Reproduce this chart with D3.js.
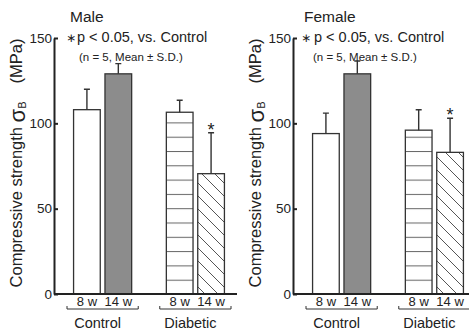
<!DOCTYPE html>
<html>
<head>
<meta charset="UTF-8">
<script src="https://cdn.jsdelivr.net/npm/d3@7"></script>
<style>
  body { margin: 0; background: #fff; }
  text { font-family: "Liberation Sans", Arial, sans-serif; fill: #222; }
</style>
</head>
<body>
<div class="chart"></div>
<script>
  // data
  const groups = ["Control", "Diabetic"];
  const weeks = ["8 w", "14 w"];
  const yTicks = [0, 50, 100, 150];
  const maleMean = [108, 129, 106.5, 70.5];
  const maleSD = [12, 6, 7, 24];
  const femaleMean = [94, 129, 96, 83];
  const femaleSD = [12, 7.5, 12, 20];
  const significant = [false, false, false, true];
  const sexes = ["Male", "Female"];

  const W = 469, H = 330;
  const svg = d3.select('.chart').append('svg').attr('width', W).attr('height', H);

  const defs = svg.append('defs');
  const hp = defs.append('pattern').attr('id', 'hlines').attr('patternUnits', 'userSpaceOnUse')
    .attr('x', 0).attr('y', 294 - 14.3 * 20).attr('width', 10).attr('height', 14.3);
  hp.append('rect').attr('width', 10).attr('height', 14.3).attr('fill', '#fff');
  hp.append('line').attr('x1', 0).attr('x2', 10).attr('y1', 0.5).attr('y2', 0.5).attr('stroke', '#666').attr('stroke-width', 1);
  const dp = defs.append('pattern').attr('id', 'diag').attr('patternUnits', 'userSpaceOnUse')
    .attr('width', 13).attr('height', 13);
  dp.append('rect').attr('width', 13).attr('height', 13).attr('fill', '#fff');
  dp.append('path').attr('d', 'M-2,-2L15,15M-2,11L2,15M11,-2L15,2').attr('stroke', '#555').attr('stroke-width', 1);

  const fills = ['#fff', '#8c8c8c', 'url(#hlines)', 'url(#diag)'];

  const y = d3.scaleLinear().domain([0, 150]).range([294, 38]);
  const x0 = d3.scaleBand().domain(groups).range([18, 172]).paddingInner(0.34);
  const x1 = d3.scaleBand().domain(weeks).range([0, x0.bandwidth()]).paddingInner(0.15).paddingOuter(0.05);

  const panels = [
    {title: sexes[0], mean: maleMean, sd: maleSD, ox: 54, titleDx: 16, starDx: 12, pDx: 23, nDx: 25},
    {title: sexes[1], mean: femaleMean, sd: femaleSD, ox: 293, titleDx: 11, starDx: 8, pDx: 21, nDx: 20}
  ];

  panels.forEach(p => {
    const g = svg.append('g').attr('transform', `translate(${p.ox},0)`);
    const bars = [];
    groups.forEach((gr, gi) => weeks.forEach((wk, wi) => {
      const i = gi * 2 + wi;
      bars.push({gr, wk, i, mean: p.mean[i], sd: p.sd[i], sig: significant[i]});
    }));
    const bx = d => x0(d.gr) + x1(d.wk);

    g.selectAll('rect.bar').data(bars).join('rect').attr('class', 'bar')
      .attr('x', bx).attr('width', x1.bandwidth())
      .attr('y', d => y(d.mean)).attr('height', d => y(0) - y(d.mean))
      .attr('fill', d => fills[d.i]).attr('stroke', '#333').attr('stroke-width', 1.3);

    // error bars (upper only)
    g.selectAll('path.err').data(bars).join('path').attr('class', 'err')
      .attr('d', d => {
        const cx = bx(d) + x1.bandwidth() / 2;
        return `M${cx},${y(d.mean)}V${y(d.mean + d.sd)}M${cx - 3},${y(d.mean + d.sd)}H${cx + 3}`;
      })
      .attr('stroke', '#333').attr('stroke-width', 1.4).attr('fill', 'none');

    g.selectAll('text.sig').data(bars.filter(d => d.sig)).join('text').attr('class', 'sig')
      .attr('x', d => bx(d) + x1.bandwidth() / 2).attr('y', d => y(d.mean + d.sd) + 3)
      .attr('text-anchor', 'middle').style('font-size', '18px').text('*');

    // y axis
    const yAxis = d3.axisLeft(y).tickValues(yTicks).tickSize(-4).tickSizeOuter(0).tickPadding(2);
    const ya = g.append('g').call(yAxis);
    ya.select('.domain').attr('stroke', '#222').attr('stroke-width', 2);
    ya.selectAll('.tick line').attr('stroke', '#222').attr('stroke-width', 2);
    ya.selectAll('.tick text').style('font-size', '13.5px').style('font-family', '"Liberation Sans", Arial, sans-serif').attr('fill', '#222');

    // baseline
    g.append('line').attr('x1', 0).attr('x2', 183).attr('y1', y(0)).attr('y2', y(0))
      .attr('stroke', '#222').attr('stroke-width', 2);

    // week labels
    g.selectAll('text.wk').data(bars).join('text').attr('class', 'wk')
      .attr('x', d => bx(d) + x1.bandwidth() / 2).attr('y', 306)
      .attr('text-anchor', 'middle').style('font-size', '13px').text(d => d.wk);

    // group brackets and labels
    groups.forEach(gr => {
      const a = x0(gr) - 5, b = x0(gr) + x0.bandwidth() + 5;
      g.append('path').attr('d', `M${a},306V309H${b}V306`).attr('stroke', '#333').attr('stroke-width', 1).attr('fill', 'none');
      g.append('text').attr('x', x0(gr) + x0.bandwidth() / 2 - 5).attr('y', 328)
        .attr('text-anchor', 'middle').style('font-size', '14.5px').text(gr);
    });

    // y label
    const yl = g.append('text').attr('transform', 'translate(-32,163) rotate(-90)')
      .attr('text-anchor', 'middle').style('font-size', '16.5px');
    yl.append('tspan').text('Compressive strength ');
    yl.append('tspan').style('font-size', '22px').attr('dy', 3).text('σ');
    yl.append('tspan').style('font-size', '11px').attr('dy', 1).text('B');
    yl.append('tspan').attr('dy', -4).attr('dx', 18).text('(MPa)');

    // titles and note
    g.append('text').attr('x', p.titleDx).attr('y', 22).style('font-size', '15.5px').text(p.title);
    g.append('text').attr('x', p.starDx).attr('y', 42).style('font-family', '"DejaVu Sans"').style('font-size', '12px').text('∗');
    g.append('text').attr('x', p.pDx).attr('y', 42).style('font-size', '14.5px').text('p < 0.05, vs. Control');
    g.append('text').attr('x', p.nDx).attr('y', 61).style('font-size', '11.5px').text('(n = 5, Mean ± S.D.)');
  });
</script>
</body>
</html>
